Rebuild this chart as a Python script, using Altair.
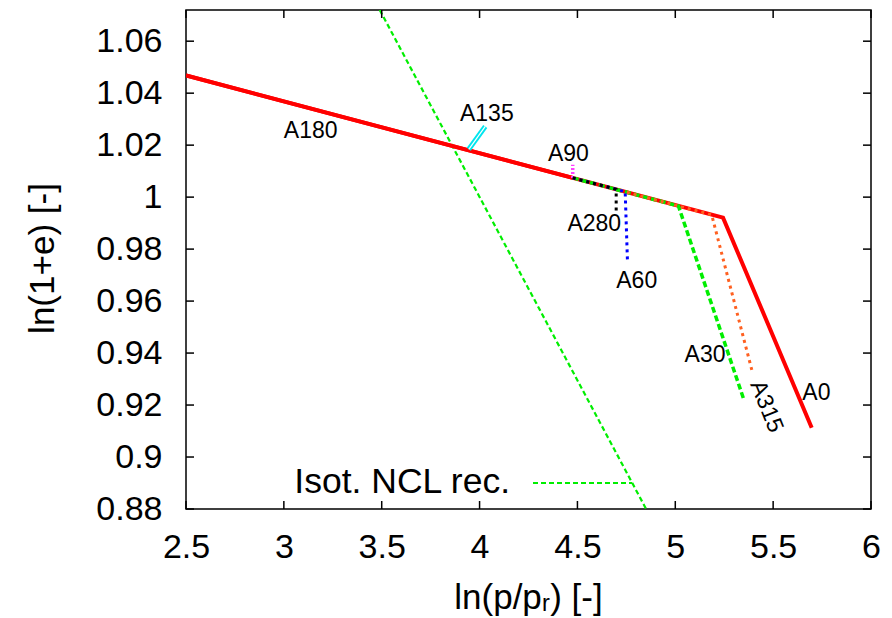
import altair as alt
import pandas as pd

# ---- data ----
x_ticks = [2.5, 3, 3.5, 4, 4.5, 5, 5.5, 6]
y_ticks = [0.88, 0.90, 0.92, 0.94, 0.96, 0.98, 1.00, 1.02, 1.04, 1.06]

ncl_x = [3.490, 4.851]
ncl_y = [1.072, 0.880]

a0_x = [2.5, 5.244, 5.697]
a0_y = [1.0468, 0.9921, 0.9113]

a180_x = [4.476, 2.5]
a180_y = [1.0074, 1.0468]

a135_x = [3.945, 4.029]
a135_y = [1.0184, 1.0272]

a90_x = [4.476, 4.476]
a90_y = [1.0074, 1.0125]

a30_x = [4.476, 5.016, 5.348]
a30_y = [1.0074, 0.9966, 0.9226]

a315_x = [4.476, 5.186, 5.391]
a315_y = [1.0074, 0.9932, 0.9335]

a60_x = [4.476, 4.744, 4.756]
a60_y = [1.0074, 1.0021, 0.9746]

a280_x = [4.476, 4.698, 4.698]
a280_y = [1.0074, 1.0030, 0.9945]

label_names = ["A180", "A135", "A90", "A280", "A60", "A30", "A0"]
label_x = [3.137, 4.037, 4.454, 4.586, 4.803, 5.152, 5.721]
label_y = [1.0253, 1.0320, 1.0166, 0.9898, 0.9677, 0.9394, 0.9246]

rot_label = ["A315"]
rot_x = [5.466]
rot_y = [0.9194]

legend_text = "Isot. NCL rec."

# ---- chart ----
W, H = 685, 499
FONT = "Liberation Sans"

xs = alt.Scale(domain=[2.5, 6], nice=False, zero=False)
ys = alt.Scale(domain=[0.88, 1.072], nice=False, zero=False)

xaxis = alt.Axis(values=x_ticks, format="~g", title="ln(p/pᵣ) [-]",
                 labelPadding=21, labelFlush=False, labelOverlap=False,
                 titleX=342, titleY=99,
                 titleBaseline="alphabetic", titleAlign="center")
yaxis = alt.Axis(values=y_ticks, format="~g", title="ln(1+e) [-]",
                 labelPadding=24, labelFlush=False, labelOverlap=False,
                 titleX=-144, titleY=248,
                 titleBaseline="middle", titleAlign="center", titleAngle=270)


def X(f="x"):
    return alt.X(f"{f}:Q", scale=xs, axis=xaxis)


def Y(f="y"):
    return alt.Y(f"{f}:Q", scale=ys, axis=yaxis)


def line(xv, yv, color, width, dash=None):
    df = pd.DataFrame({"x": xv, "y": yv, "o": list(range(len(xv)))})
    kw = dict(color=color, strokeWidth=width, clip=True, strokeCap="butt")
    if dash:
        kw["strokeDash"] = dash
    return alt.Chart(df).mark_line(**kw).encode(x=X(), y=Y(), order="o:Q")


layers = [
    line(ncl_x, ncl_y, "#00ee00", 2.2, [5, 3]),
    line(a0_x, a0_y, "#ff0000", 4),
    line(a180_x, a180_y, "#ff0000", 4),
    line(a135_x, a135_y, "#00e5ee", 5),
    line(a135_x, a135_y, "#ffffff", 1.2),
    line(a90_x, a90_y, "#ff40ff", 3.5, [2, 2]),
    line(a30_x, a30_y, "#00ee00", 3.5, [6, 3]),
    line(a315_x, a315_y, "#ff6020", 3, [3, 4]),
    line(a60_x, a60_y, "#0000ff", 3, [3, 4]),
    line(a280_x, a280_y, "#000000", 3, [3, 4]),
]

lab_df = pd.DataFrame({"t": label_names, "x": label_x, "y": label_y})
labels = alt.Chart(lab_df).mark_text(font=FONT, fontSize=23, color="black").encode(
    x=X(), y=Y(), text="t:N")
rot_df = pd.DataFrame({"t": rot_label, "x": rot_x, "y": rot_y})
rot = alt.Chart(rot_df).mark_text(font=FONT, fontSize=23, color="black", angle=68).encode(
    x=X(), y=Y(), text="t:N")

# legend (decoration)
leg_df = pd.DataFrame({"t": [legend_text]})
leg_text = alt.Chart(leg_df).mark_text(font=FONT, fontSize=35.5, color="black",
                                       align="right", baseline="middle").encode(
    x=alt.value(324), y=alt.value(472), text="t:N")
leg_line = alt.Chart(leg_df).mark_rule(color="#00ee00", strokeWidth=2.2, strokeDash=[5, 3]).encode(
    x=alt.value(347), x2=alt.value(446), y=alt.value(473))

# inward ticks on all four sides
xt_df = pd.DataFrame({"x": x_ticks})
yt_df = pd.DataFrame({"y": y_ticks})
TL = 8
tick_style = dict(color="black", strokeWidth=1.5)
ticks = [
    alt.Chart(xt_df).mark_rule(**tick_style).encode(x=X(), y=alt.value(H), y2=alt.value(H - TL)),
    alt.Chart(xt_df).mark_rule(**tick_style).encode(x=X(), y=alt.value(0), y2=alt.value(TL)),
    alt.Chart(yt_df).mark_rule(**tick_style).encode(y=Y(), x=alt.value(0), x2=alt.value(TL)),
    alt.Chart(yt_df).mark_rule(**tick_style).encode(y=Y(), x=alt.value(W), x2=alt.value(W - TL)),
]

chart = alt.layer(*layers, labels, rot, leg_text, leg_line, *ticks).properties(
    width=W, height=H,
    autosize=alt.AutoSizeParams(type="none"),
    padding={"left": 186, "top": 10, "right": 21, "bottom": 109},
    background="white",
).configure_view(
    stroke="black", strokeWidth=1.5
).configure_axis(
    labelFont=FONT, labelFontSize=34, labelColor="black",
    titleFont=FONT, titleFontSize=35, titleFontWeight="normal", titleColor="black",
    grid=False, ticks=False, domain=False,
)

chart.save("out.html", embed_options={"renderer": "svg", "actions": False})
